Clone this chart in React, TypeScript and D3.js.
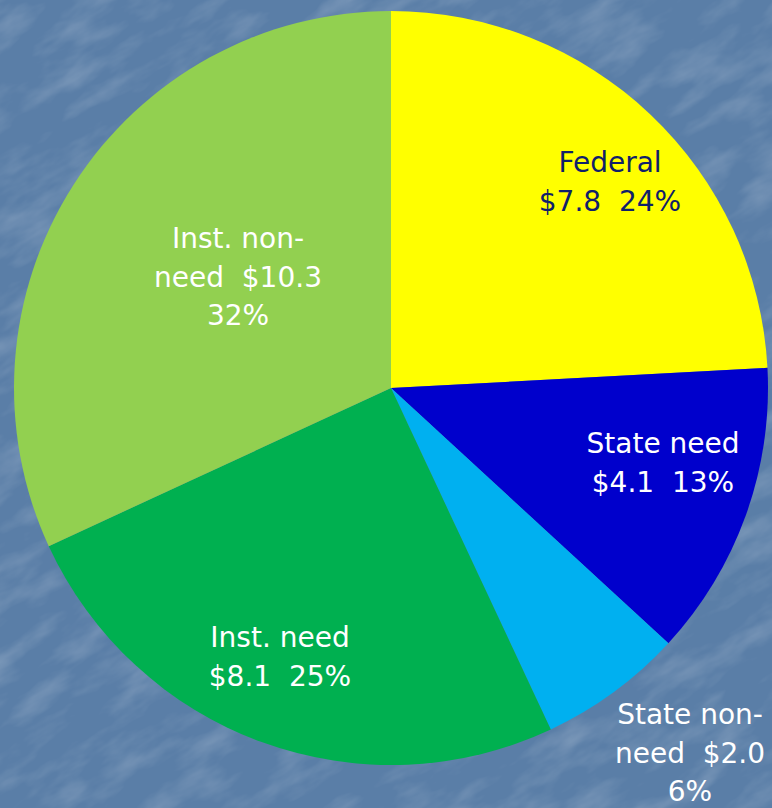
import React from "react";
import * as d3 from "d3";

const categories = ["Federal", "State need", "State non-need", "Inst. need", "Inst. non-need"];
const amounts = [7.8, 4.1, 2.0, 8.1, 10.3];
const percents = [24, 13, 6, 25, 32];
const labelLines = [
  ["Federal", "$7.8  24%"],
  ["State need", "$4.1  13%"],
  ["State non-", "need  $2.0", "6%"],
  ["Inst. need", "$8.1  25%"],
  ["Inst. non-", "need  $10.3", "32%"],
];
const colors = ["#FFFF00", "#0000CC", "#00B0F0", "#00B050", "#92D050"];
const textColors = ["#10206a", "#ffffff", "#ffffff", "#ffffff", "#ffffff"];
// label anchor positions (layout, px from top-left of chart)
const labelPos: [number, number][] = [
  [610, 164],
  [663, 445],
  [690, 716],
  [280, 639],
  [238, 240],
];

const W = 772, H = 808;
const cx = 391, cy = 388, R = 377;

export default function App() {
  const pie = d3.pie<number>().value((d) => d).sort(null);
  const arcs = pie(amounts);
  const arc = d3.arc<d3.PieArcDatum<number>>().innerRadius(0).outerRadius(R);
  return (
    <svg width={W} height={H} style={{ position: "absolute", left: 0, top: 0 }}>
      <defs>
        <filter id="tex" x="0" y="0" width="100%" height="100%">
          <feTurbulence type="fractalNoise" baseFrequency="0.015 0.04" numOctaves="4" seed="7" result="n" />
          <feColorMatrix in="n" type="matrix" values="0 0 0 0 1  0 0 0 0 1  0 0 0 0 1  0 0 0 1.4 -0.6" />
        </filter>
      </defs>
      <rect width={W} height={H} fill="#5A7EA7" />
      <rect x={-300} y={-300} width={W + 600} height={H + 600} filter="url(#tex)" opacity={0.28} transform="rotate(-30 386 404)" />
      <g transform={`translate(${cx},${cy})`}>
        {arcs.map((a, i) => (
          <path key={categories[i]} d={arc(a) || ""} fill={colors[i]} />
        ))}
      </g>
      {labelLines.map((lines, i) => (
        <text
          key={categories[i]}
          x={labelPos[i][0]}
          y={labelPos[i][1]}
          textAnchor="middle"
          fontFamily="'DejaVu Sans', Verdana, sans-serif"
          fontSize={28}
          fill={textColors[i]}
          dominantBaseline="middle"
          style={{ whiteSpace: "pre" }}
          xmlSpace="preserve"
        >
          {lines.map((l, j) => (
            <tspan key={j} x={labelPos[i][0]} dy={j === 0 ? 0 : 38.5}>
              {l}
            </tspan>
          ))}
        </text>
      ))}
    </svg>
  );
}
